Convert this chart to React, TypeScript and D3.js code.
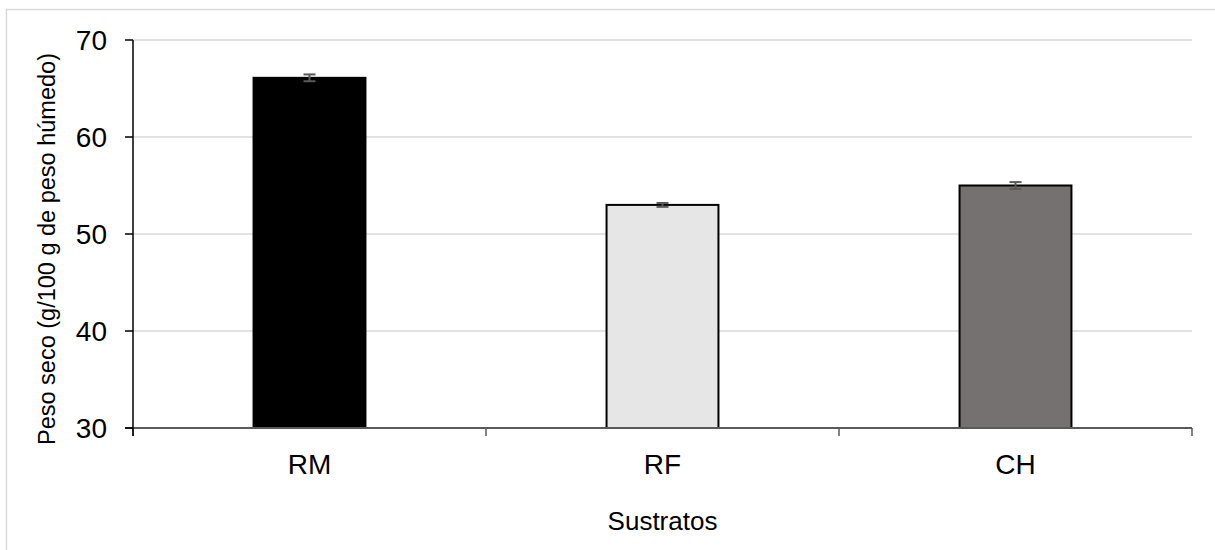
import React from "react";
import * as d3 from "d3";

const categories = ["RM", "RF", "CH"];
const values = [66.1, 53.0, 55.0];
const errors = [0.35, 0.2, 0.35];
const fills = ["#000000", "#e6e6e6", "#767171"];
const yTicks = [30, 40, 50, 60, 70];
const yTitle = "Peso seco (g/100 g de peso húmedo)";
const xTitle = "Sustratos";

const W = 1215;
const H = 550;
const left = 133;
const right = 1192;
const top = 40;
const bottom = 428;
const FONT = "'Liberation Sans', Arial, sans-serif";

export default function App() {
  const x = d3.scaleBand<string>().domain(categories).range([left, right]).paddingInner(0.683).paddingOuter(0.3415);
  const xb = d3.scaleBand<string>().domain(categories).range([left, right]);
  const y = d3.scaleLinear().domain([30, 70]).range([bottom, top]);

  return (
    <svg width={W} height={H} style={{ position: "absolute", left: 0, top: 0, background: "#fff" }}>
      <rect x={6.5} y={9.5} width={W + 20} height={H + 20} fill="#fff" stroke="#d9d9d9" strokeWidth={1.5} />
      {yTicks.filter((t) => t !== 30).map((t) => (
        <line key={"g" + t} x1={left} x2={right} y1={y(t)} y2={y(t)} stroke="#d9d9d9" strokeWidth={1.5} />
      ))}
      {categories.map((c, i) => {
        const bx = x(c)!;
        const bw = x.bandwidth();
        const cx = bx + bw / 2;
        return (
          <g key={c}>
            <rect x={bx} y={y(values[i])} width={bw} height={bottom - y(values[i])} fill={fills[i]} stroke="#000" strokeWidth={2} />
            <line x1={cx} x2={cx} y1={y(values[i] + errors[i])} y2={y(values[i] - errors[i])} stroke="#595959" strokeWidth={2} />
            <line x1={cx - 6} x2={cx + 6} y1={y(values[i] + errors[i])} y2={y(values[i] + errors[i])} stroke="#595959" strokeWidth={2} />
            <line x1={cx - 6} x2={cx + 6} y1={y(values[i] - errors[i])} y2={y(values[i] - errors[i])} stroke="#595959" strokeWidth={2} />
            <text x={xb(c)! + xb.bandwidth() / 2} y={474} textAnchor="middle" fontFamily={FONT} fontSize={28} fill="#000">{c}</text>
          </g>
        );
      })}
      <line x1={left - 8} x2={right} y1={bottom} y2={bottom} stroke="#595959" strokeWidth={2} />
      {[...categories.map((c) => xb(c)!), right].map((px, i) => (
        <line key={"xt" + i} x1={px} x2={px} y1={bottom} y2={bottom + 8} stroke="#595959" strokeWidth={1.5} />
      ))}
      <line x1={left} x2={left} y1={top} y2={bottom + 8} stroke="#000" strokeWidth={1.5} />
      {yTicks.map((t) => (
        <g key={"yt" + t}>
          <line x1={left - 8} x2={left} y1={y(t)} y2={y(t)} stroke="#000" strokeWidth={1.5} />
          <text x={107} y={y(t)} dy="0.36em" textAnchor="end" fontFamily={FONT} fontSize={28} fill="#000">{t}</text>
        </g>
      ))}
      <text transform={`translate(55,249) rotate(-90)`} textAnchor="middle" fontFamily={FONT} fontSize={23.5} fill="#000">{yTitle}</text>
      <text x={(left + right) / 2} y={530} textAnchor="middle" fontFamily={FONT} fontSize={26} fill="#000">{xTitle}</text>
    </svg>
  );
}
